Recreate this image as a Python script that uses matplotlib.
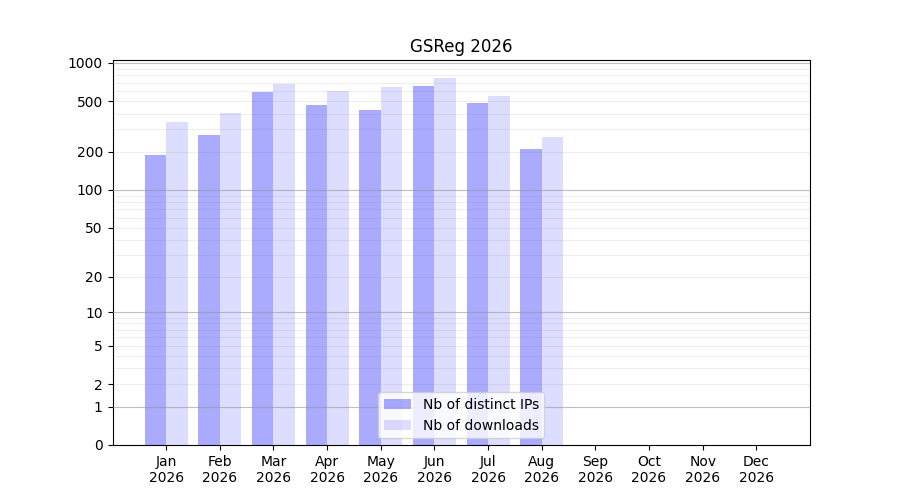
import numpy as np
import matplotlib
matplotlib.use('Agg')
from matplotlib import pyplot as plt

# monthly stats
months = ['Jan', 'Feb', 'Mar', 'Apr', 'May', 'Jun',
          'Jul', 'Aug', 'Sep', 'Oct', 'Nov', 'Dec']
year = 2026
distinct_ips = [189, 271, 592, 468, 427, 660, 485, 210]
downloads = [343, 405, 688, 603, 648, 763, 551, 262]
ytick_values = [0, 1, 2, 5, 10, 20, 50, 100, 200, 500, 1000]


def fwd(x):
    return np.log10(1 + np.clip(x, 0, None))


def inv(y):
    return 10 ** y - 1


fig, ax = plt.subplots(figsize=(9, 5), dpi=100)
ax.set_yscale('function', functions=(fwd, inv))

idx = np.arange(len(distinct_ips))
width = 0.4
ax.bar(idx - width / 2, distinct_ips, width, color='blue', alpha=1 / 3,
       label='Nb of distinct IPs', zorder=2)
ax.bar(idx + width / 2, downloads, width, color='blue', alpha=0.135,
       label='Nb of downloads', zorder=2)

# grid: faint lines at every unit step per decade, darker at decades
minor = [m * 10 ** d for d in range(0, 3) for m in range(1, 10)] + [1000]
for v in minor:
    ax.axhline(v, color='0.5', lw=0.8, alpha=0.13, zorder=3)
for v in [1, 10, 100, 1000]:
    ax.axhline(v, color='0.6', lw=0.8, alpha=0.55, zorder=3)

ax.set_yticks(ytick_values)
ax.set_yticklabels([str(v) for v in ytick_values])
ax.set_ylim(0, 1055)

ax.set_xticks(np.arange(len(months)))
ax.set_xticklabels([f'{m}\n{year}' for m in months])
ax.set_xlim(-1, 12)

ax.set_title(f'GSReg {year}')
ax.legend(loc='lower center')

plt.savefig('out.png', format='png')
